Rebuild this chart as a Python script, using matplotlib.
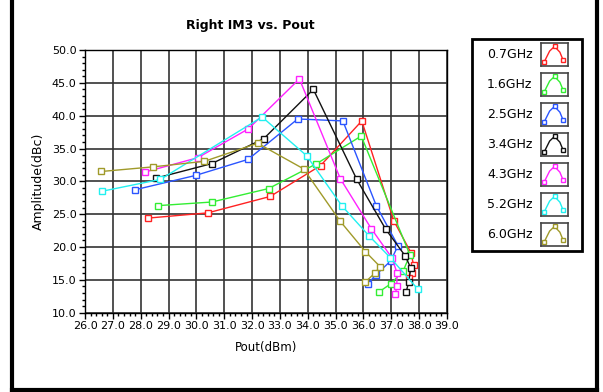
import matplotlib.pyplot as plt
from matplotlib.lines import Line2D
from matplotlib.patches import Rectangle
from matplotlib.ticker import MultipleLocator

labels = ['0.7GHz', '1.6GHz', '2.5GHz', '3.4GHz', '4.3GHz', '5.2GHz', '6.0GHz']
colors = ['#ff2222', '#33ee33', '#2b55ff', '#111111', '#ff22ff', '#22f0f0', '#a09a2a']

x07 = [28.25, 30.41, 32.65, 34.46, 35.94, 37.09, 37.71, 37.80, 37.75, 37.65]
y07 = [24.4, 25.2, 27.7, 32.4, 39.2, 24.0, 19.1, 17.2, 16.0, 15.3]
x16 = [28.61, 30.55, 32.59, 34.30, 35.92, 37.67, 37.43, 36.98, 36.57]
y16 = [26.3, 26.85, 28.9, 32.65, 36.9, 18.8, 16.4, 14.4, 13.2]
x25 = [27.78, 29.97, 31.86, 33.64, 35.26, 36.46, 37.24, 36.98, 36.46, 36.15]
y25 = [28.7, 30.9, 33.35, 39.5, 39.2, 26.3, 20.2, 17.9, 15.8, 14.4]
x34 = [28.56, 30.55, 32.42, 34.20, 35.76, 36.80, 37.50, 37.70, 37.62, 37.53]
y34 = [30.5, 32.7, 36.5, 44.0, 30.3, 22.7, 18.65, 16.8, 14.6, 13.1]
x43 = [28.14, 30.05, 31.87, 33.70, 35.17, 36.28, 37.03, 37.20, 37.20, 37.15]
y43 = [31.4, 33.6, 38.0, 45.6, 30.4, 22.8, 18.3, 16.1, 14.1, 12.9]
x52 = [26.62, 28.71, 32.36, 33.96, 35.22, 36.19, 36.96, 37.95]
y52 = [28.5, 30.3, 39.8, 33.9, 26.3, 21.75, 18.4, 13.6]
x60 = [26.58, 28.43, 30.29, 32.20, 33.85, 35.17, 36.07, 36.60, 36.40, 36.05]
y60 = [31.5, 32.2, 33.05, 35.8, 31.9, 23.9, 19.3, 17.0, 16.0, 14.6]

xs = [x07, x16, x25, x34, x43, x52, x60]
ys = [y07, y16, y25, y34, y43, y52, y60]

W, H = 603, 392
fig = plt.figure(figsize=(6.03, 3.92), dpi=100)
ax = fig.add_axes([85/W, 1-312.7/H, (447-85)/W, (312.7-50)/H])
ax.set_axisbelow(True)

for x, y, c in zip(xs, ys, colors):
    ax.plot(x, y, color=c, lw=1, marker='s', ms=4, mfc='white', mec=c, mew=1, zorder=3)

ax.set_xlim(26, 39)
ax.set_ylim(10, 50)
ax.xaxis.set_major_locator(MultipleLocator(1))
ax.xaxis.set_minor_locator(MultipleLocator(0.2))
ax.yaxis.set_major_locator(MultipleLocator(5))
ax.yaxis.set_minor_locator(MultipleLocator(1))
ax.xaxis.set_major_formatter(lambda v, p: '%.1f' % v)
ax.yaxis.set_major_formatter(lambda v, p: '%.1f' % v)
ax.tick_params(which='major', length=4, width=1, labelsize=8, pad=2)
ax.tick_params(which='minor', length=2, width=1)
ax.grid(True, which='major', color='#333333', lw=1.2)
for s in ax.spines.values():
    s.set_linewidth(1)

ax.set_xlabel('Pout(dBm)', fontsize=8.5, labelpad=7)
ax.set_ylabel('Amplitude(dBc)', fontsize=9, labelpad=5)
fig.text(250/W, 1-25/H, 'Right IM3 vs. Pout', fontsize=9, fontweight='bold', ha='center', va='center')

# legend box
fig.add_artist(Rectangle((472/W, 1-251/H), 110/W, 212/H, transform=fig.transFigure,
                         fill=False, ec='black', lw=2))
sx = [0.12, 0.32, 0.5, 0.7, 0.82]
sy = [0.18, 0.65, 0.85, 0.6, 0.25]
for i, (lab, c) in enumerate(zip(labels, colors)):
    yc = 54 + i * 30
    fig.text(487/W, 1-yc/H, lab, fontsize=9, ha='left', va='center')
    sw = fig.add_axes([541/W, 1-(yc+12)/H, 27/W, 23/H])
    sw.plot(sx, sy, color=c, lw=1, marker='s', ms=3, mfc='white', mec=c, markevery=[0, 2, 4])
    sw.set_xlim(0, 1)
    sw.set_ylim(0, 1)
    sw.set_xticks([])
    sw.set_yticks([])
    for s in sw.spines.values():
        s.set_color('#444444')
        s.set_linewidth(1.2)

# outer frame
fig.add_artist(Line2D([12/W, 12/W], [1-390/H, 1.0], transform=fig.transFigure, color='black', lw=3))
fig.add_artist(Line2D([597/W, 597/W], [1-390/H, 1.0], transform=fig.transFigure, color='black', lw=3))
fig.add_artist(Line2D([12/W, 597/W], [1-390/H, 1-390/H], transform=fig.transFigure, color='black', lw=3))

plt.savefig('out.png', dpi=100)
